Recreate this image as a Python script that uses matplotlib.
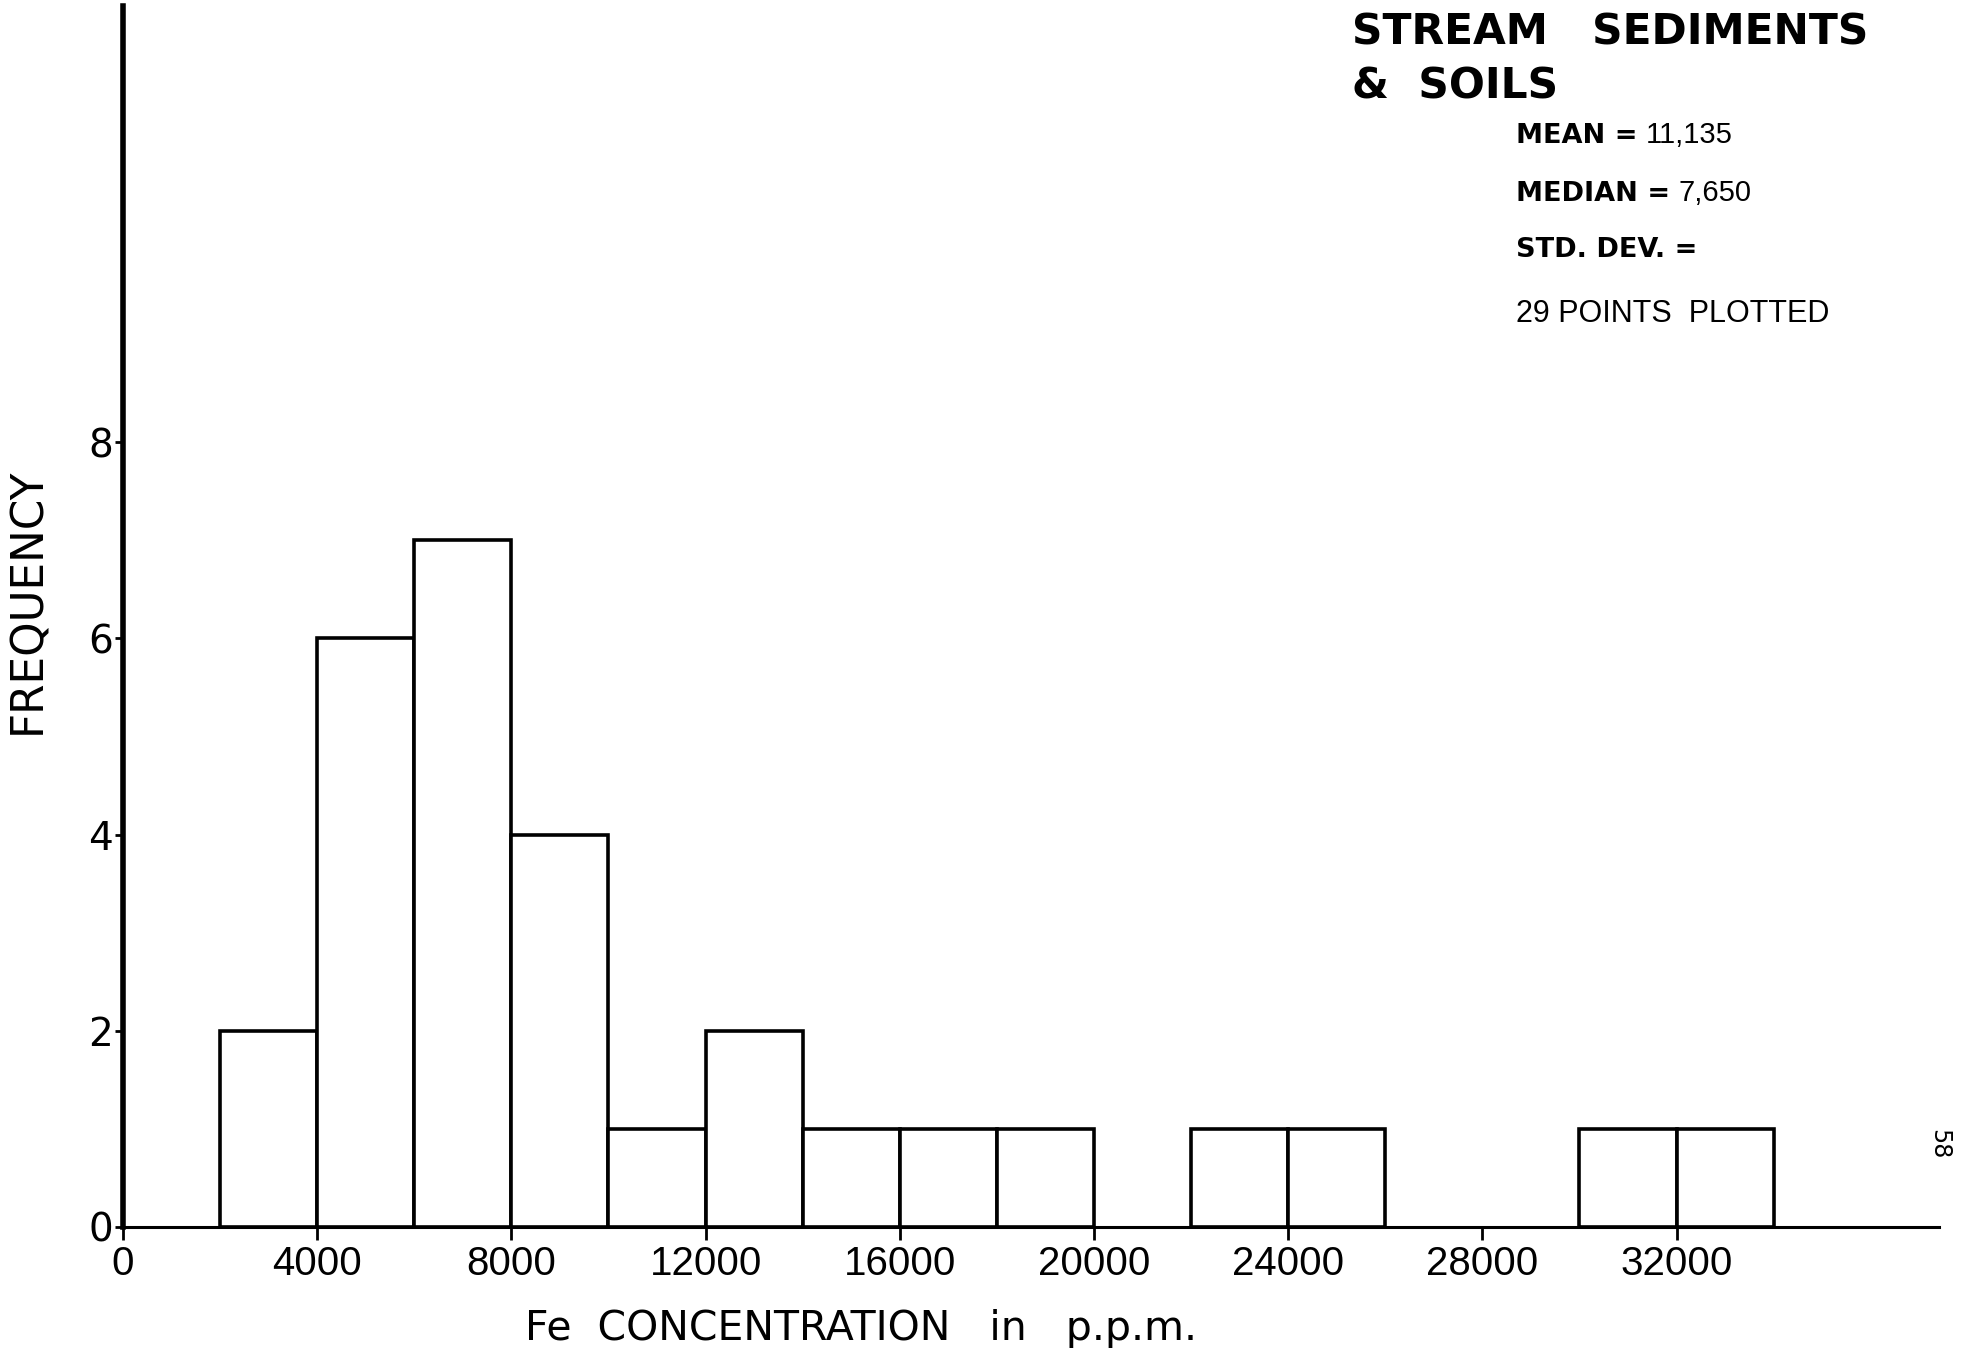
"""Histogram of Fe concentration in stream sediments & soils."""

import matplotlib

matplotlib.use("Agg")
import matplotlib.pyplot as plt

# bins of 2000 ppm; counts
bin_left = [2000, 4000, 6000, 8000, 10000, 12000, 14000, 16000, 18000,
            22000, 24000, 30000, 32000]
counts = [2, 6, 7, 4, 1, 2, 1, 1, 1, 1, 1, 1, 1]
bin_width = 2000

x_ticks = [0, 4000, 8000, 12000, 16000, 20000, 24000, 28000, 32000]
y_ticks = [0, 2, 4, 6, 8]

stats = [("MEAN =", "11,135"), ("MEDIAN =", "7,650"), ("STD. DEV. =", "")]
n_points_text = "29 POINTS  PLOTTED"

NARROW = ["Liberation Sans", "DejaVu Sans"]


def main() -> None:
    plt.rcParams["font.family"] = ["DejaVu Sans"]
    fig = plt.figure(figsize=(19.65, 13.48), dpi=100)
    ax = fig.add_axes([0.0626, 0.0898, 0.924, 0.906])

    ax.bar(bin_left, counts, width=bin_width, align="edge",
           facecolor="white", edgecolor="black", linewidth=2.6, zorder=2)

    ax.set_xlim(0, 37400)
    ax.set_ylim(0, 12.45)
    for side in ("top", "right"):
        ax.spines[side].set_visible(False)
    ax.spines["left"].set_linewidth(4.0)
    ax.spines["bottom"].set_linewidth(2.2)
    ax.spines["left"].set_zorder(3)

    ax.set_xticks(x_ticks)
    ax.set_xticklabels([str(t) for t in x_ticks], family=NARROW, fontsize=29)
    ax.set_yticks(y_ticks)
    ax.set_yticklabels([str(t) for t in y_ticks], fontsize=28)
    ax.tick_params(axis="x", direction="out", length=9, width=2.0, pad=4)
    ax.tick_params(axis="y", direction="out", length=6, width=2.0, pad=1)

    fig.text(0.014, 0.554, "FREQUENCY", rotation=90, fontsize=31.5,
             ha="center", va="center")
    fig.text(0.438, 0.006, "Fe  CONCENTRATION   in   p.p.m.", fontsize=29.5,
             ha="center", va="baseline")

    fig.text(0.688, 0.967, "STREAM   SEDIMENTS", fontsize=30.5,
             fontweight="bold", ha="left", va="baseline")
    fig.text(0.688, 0.927, "&  SOILS", fontsize=30.5,
             fontweight="bold", ha="left", va="baseline")

    baselines = [0.894, 0.851, 0.809]
    for (label, value), yb in zip(stats, baselines):
        t = fig.text(0.7715, yb, label, fontsize=19.5, fontweight="bold",
                     ha="left", va="baseline")
        if value:
            ax.annotate(value, xy=(1, 0), xycoords=t, xytext=(6, 0),
                        textcoords="offset points", fontsize=21,
                        family=NARROW, ha="left", va="bottom",
                        annotation_clip=False)
    fig.text(0.7715, 0.761, n_points_text, fontsize=22, family=NARROW,
             ha="left", va="baseline")

    fig.text(0.987, 0.151, "58", rotation=-90, fontsize=17,
             ha="center", va="center")

    fig.savefig("out.png", dpi=100)


if __name__ == "__main__":
    main()
